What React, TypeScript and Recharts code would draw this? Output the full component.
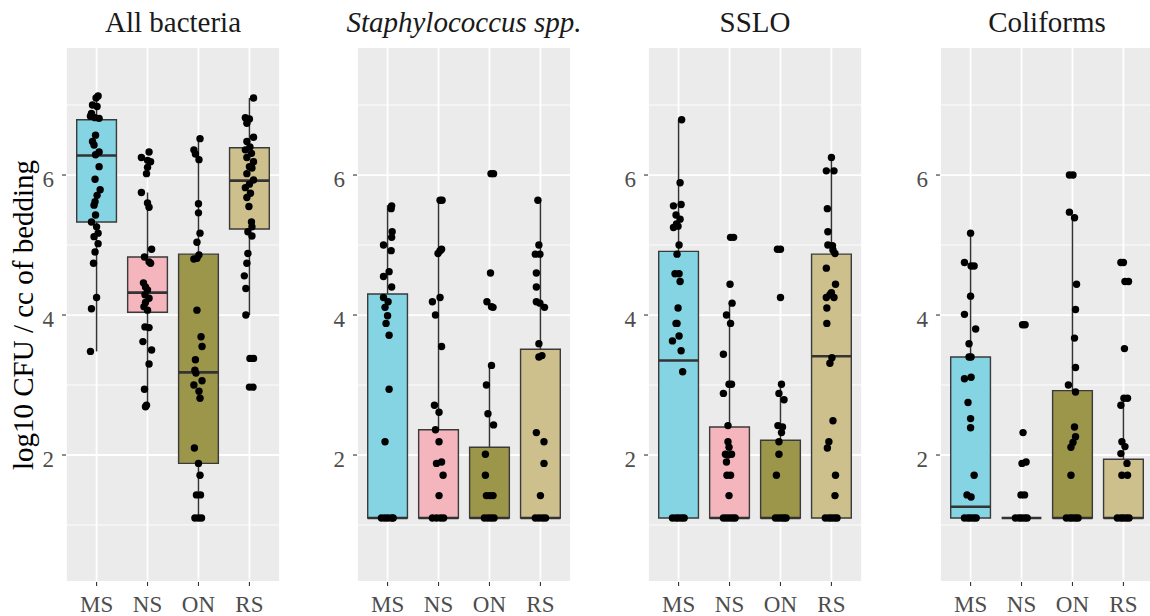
import React from "react";
import {
  ComposedChart,
  CartesianGrid,
  XAxis,
  YAxis,
  Scatter,
  ReferenceArea,
  ReferenceLine,
} from "recharts";

// ---------- data ----------
const categories = ["MS", "NS", "ON", "RS"];
const facetTitles = ["All bacteria", "Staphylococcus spp.", "SSLO", "Coliforms"];
const yTicks = [2, 4, 6];
const yMinorTicks = [1, 3, 5, 7];

// box stats per group: [min whisker, Q1, median, Q3, max whisker]
const allBacteriaBoxes = [
  [3.48, 5.33, 6.28, 6.79, 7.13],
  [2.69, 4.04, 4.32, 4.83, 5.75],
  [1.1, 1.88, 3.18, 4.87, 6.52],
  [4.0, 5.23, 5.92, 6.39, 7.1],
];
const staphBoxes = [
  [1.1, 1.1, 1.1, 4.3, 5.57],
  [1.1, 1.1, 1.1, 2.36, 5.64],
  [1.1, 1.1, 1.1, 2.11, 3.28],
  [1.1, 1.1, 1.1, 3.51, 5.64],
];
const ssloBoxes = [
  [1.1, 1.1, 3.35, 4.91, 6.79],
  [1.1, 1.1, 1.1, 2.4, 4.17],
  [1.1, 1.1, 1.1, 2.21, 3.01],
  [1.1, 1.1, 3.41, 4.87, 6.25],
];
const coliformBoxes = [
  [1.1, 1.1, 1.26, 3.4, 5.17],
  [1.1, 1.1, 1.1, 1.1, 1.1],
  [1.1, 1.1, 1.1, 2.92, 5.4],
  [1.1, 1.1, 1.1, 1.94, 2.81],
];

// points: [value, horizontal jitter in category units]
const allBacteriaMS = [
  [7.13, 0.03], [7.1, -0.01], [7.0, -0.08], [6.98, 0.01], [6.88, -0.1], [6.84, -0.12], [6.82, -0.03], [6.81, 0.05],
  [6.57, -0.02], [6.48, -0.08], [6.43, -0.05], [6.33, 0.05], [6.29, -0.02], [6.12, 0.05], [5.94, -0.03], [5.79, 0.07],
  [5.71, 0.01], [5.62, -0.03], [5.57, -0.05], [5.43, -0.02], [5.33, -0.1], [5.26, 0.0], [5.17, 0.03], [5.12, -0.05],
  [5.02, 0.03], [4.9, -0.03], [4.74, -0.06], [4.25, 0.0], [4.09, -0.1], [3.48, -0.12],
];
const allBacteriaNS = [
  [6.33, 0.03], [6.25, -0.12], [6.21, 0.0], [6.19, 0.06], [6.11, 0.0], [6.02, -0.02], [5.75, -0.12], [5.6, 0.0],
  [5.54, 0.03], [4.94, 0.08], [4.83, -0.06], [4.76, 0.03], [4.74, 0.06], [4.46, -0.08], [4.4, -0.04], [4.36, 0.0],
  [4.29, -0.05], [4.24, 0.03], [4.18, -0.04], [4.12, -0.07], [4.07, 0.0], [3.83, -0.05], [3.82, 0.03], [3.62, -0.09],
  [3.5, 0.08], [3.3, 0.03], [2.94, -0.06], [2.71, -0.02], [2.69, -0.04],
];
const allBacteriaON = [
  [6.52, 0.03], [6.36, -0.09], [6.3, -0.06], [6.22, 0.01], [5.59, 0.0], [5.46, 0.0], [5.17, 0.03], [5.04, -0.03],
  [4.86, 0.01], [4.8, -0.09], [4.81, -0.03], [4.07, -0.03], [3.69, 0.05], [3.55, 0.07], [3.36, -0.06], [3.21, -0.07],
  [3.17, -0.05], [3.0, -0.09], [3.06, 0.07], [2.91, 0.01], [2.81, 0.03], [2.1, -0.08], [1.88, 0.0], [1.71, 0.03],
  [1.43, -0.04], [1.43, 0.04], [1.1, -0.07], [1.1, 0.0], [1.1, 0.06],
];
const allBacteriaRS = [
  [7.1, 0.08], [6.82, -0.08], [6.8, 0.0], [6.74, -0.05], [6.54, 0.08], [6.48, -0.05], [6.4, 0.01], [6.36, -0.08],
  [6.31, 0.04], [6.25, -0.05], [6.19, 0.08], [6.12, 0.0], [6.1, 0.05], [6.02, -0.05], [5.93, 0.08], [5.87, 0.0],
  [5.82, -0.08], [5.74, 0.02], [5.68, -0.05], [5.55, -0.01], [5.33, 0.04], [5.26, 0.05], [5.19, -0.03], [5.13, 0.05],
  [4.88, -0.03], [4.74, -0.05], [4.56, -0.1], [4.38, -0.07], [4.0, -0.07], [3.38, 0.01], [3.38, 0.08], [2.97, 0.0],
  [2.97, 0.07],
];

const staphMS = [
  [5.56, 0.08], [5.52, 0.07], [5.19, 0.09], [5.11, 0.08], [5.0, -0.08], [4.92, 0.07], [4.62, 0.03], [4.55, -0.08],
  [4.4, 0.08], [4.25, -0.08], [4.19, 0.01], [4.11, -0.05], [3.99, 0.0], [3.88, -0.03], [3.71, 0.03], [2.94, 0.03],
  [2.19, -0.05], [1.1, -0.12], [1.1, -0.05], [1.1, 0.01], [1.1, 0.08], [1.1, 0.11],
];
const staphNS = [
  [5.64, 0.03], [5.64, 0.07], [4.94, 0.06], [4.92, 0.03], [4.88, -0.01], [4.25, 0.03], [4.19, -0.12], [4.0, -0.06],
  [3.55, 0.06], [2.71, -0.08], [2.61, 0.01], [2.36, -0.06], [2.19, 0.01], [1.88, -0.04], [1.9, 0.06], [1.71, 0.09],
  [1.42, 0.01], [1.1, -0.12], [1.1, -0.04], [1.1, 0.04], [1.1, 0.1],
];
const staphON = [
  [6.02, 0.03], [6.02, 0.08], [4.6, 0.02], [4.19, -0.05], [4.12, 0.04], [4.11, 0.07], [3.28, 0.04], [3.0, -0.06],
  [2.59, -0.03], [2.43, 0.08], [2.01, -0.08], [1.71, -0.08], [1.42, -0.06], [1.42, 0.01], [1.42, 0.07], [1.1, -0.1],
  [1.1, -0.03], [1.1, 0.03], [1.1, 0.09],
];
const staphRS = [
  [5.64, -0.05], [5.0, -0.03], [4.87, -0.1], [4.87, -0.01], [4.6, -0.08], [4.4, -0.08], [4.19, -0.08], [4.17, -0.01],
  [4.11, 0.08], [3.59, -0.03], [3.4, -0.03], [3.42, 0.03], [2.32, -0.08], [2.19, 0.07], [1.88, 0.07], [1.42, 0.0],
  [1.1, -0.1], [1.1, -0.03], [1.1, 0.04], [1.1, 0.1],
];

const ssloMS = [
  [6.79, 0.06], [5.89, 0.03], [5.56, -0.1], [5.58, 0.05], [5.43, -0.05], [5.37, 0.03], [5.3, -0.04], [5.25, -0.1],
  [5.27, -0.01], [5.0, 0.01], [4.87, -0.03], [4.59, -0.07], [4.59, 0.01], [4.48, 0.03], [4.1, -0.01], [3.88, -0.05],
  [3.88, -0.03], [3.7, 0.01], [3.63, -0.12], [3.49, 0.05], [3.19, 0.08], [1.1, -0.12], [1.1, -0.05], [1.1, 0.0],
  [1.1, 0.06], [1.1, 0.11],
];
const ssloNS = [
  [5.11, 0.02], [5.11, 0.08], [4.44, 0.01], [4.17, 0.05], [4.0, -0.06], [3.88, 0.02], [3.44, -0.12], [3.01, -0.01],
  [3.01, 0.04], [2.88, -0.12], [2.42, -0.03], [2.19, -0.03], [2.11, -0.01], [2.01, -0.08], [2.01, 0.04], [2.0, -0.03],
  [1.9, -0.06], [1.71, -0.05], [1.71, 0.02], [1.42, -0.01], [1.1, -0.12], [1.1, -0.06], [1.1, 0.0], [1.1, 0.06],
  [1.1, 0.11],
];
const ssloON = [
  [4.94, -0.06], [4.94, 0.0], [4.25, 0.0], [3.01, 0.02], [2.88, -0.03], [2.79, 0.07], [2.42, -0.05], [2.4, 0.04],
  [2.32, 0.02], [2.19, -0.03], [2.01, -0.03], [1.71, -0.08], [1.1, -0.1], [1.1, -0.04], [1.1, 0.02], [1.1, 0.07],
  [1.1, 0.11],
];
const ssloRS = [
  [6.25, 0.0], [6.06, -0.1], [6.06, 0.05], [5.52, -0.08], [5.19, -0.07], [5.0, -0.07], [4.99, 0.02], [4.93, 0.03],
  [4.88, 0.07], [4.67, -0.1], [4.44, 0.08], [4.32, 0.0], [4.25, -0.1], [4.25, 0.05], [4.29, -0.03], [4.1, -0.09],
  [3.88, -0.09], [3.39, 0.01], [3.31, -0.03], [2.49, 0.03], [2.19, -0.05], [2.1, -0.08], [1.71, 0.08], [1.42, 0.07],
  [1.1, -0.12], [1.1, -0.05], [1.1, 0.0], [1.1, 0.06], [1.1, 0.11],
];

const coliformMS = [
  [5.17, 0.0], [4.75, -0.12], [4.7, 0.01], [4.7, 0.07], [4.27, 0.0], [4.01, -0.12], [3.8, 0.1], [3.59, -0.03],
  [3.4, -0.03], [3.4, 0.01], [3.09, -0.12], [3.11, 0.01], [2.75, -0.05], [2.52, 0.0], [2.39, 0.0], [1.71, 0.07],
  [1.43, -0.07], [1.4, 0.01], [1.1, -0.12], [1.1, -0.05], [1.1, 0.0], [1.1, 0.06], [1.1, 0.11],
];
const coliformNS = [
  [3.86, 0.02], [3.86, 0.07], [2.32, 0.03], [1.88, 0.01], [1.9, 0.09], [1.43, -0.01], [1.43, 0.06], [1.1, -0.12],
  [1.1, -0.05], [1.1, 0.0], [1.1, 0.06], [1.1, 0.11],
];
const coliformON = [
  [6.0, -0.06], [6.0, 0.01], [5.47, -0.06], [5.39, 0.04], [4.44, 0.08], [4.08, 0.06], [3.67, 0.04], [3.25, 0.06],
  [3.0, -0.08], [2.9, 0.06], [2.4, 0.04], [2.26, 0.06], [2.18, 0.01], [2.11, -0.03], [1.71, -0.03], [1.1, -0.12],
  [1.1, -0.05], [1.1, 0.0], [1.1, 0.06], [1.1, 0.11],
];
const coliformRS = [
  [4.75, -0.05], [4.75, 0.0], [4.48, 0.03], [4.48, 0.1], [3.52, 0.02], [2.81, 0.01], [2.81, 0.08], [2.71, -0.05],
  [2.19, -0.03], [2.12, 0.03], [2.02, -0.05], [1.88, 0.07], [1.71, -0.03], [1.71, 0.08], [1.1, -0.12], [1.1, -0.05],
  [1.1, 0.0], [1.1, 0.06], [1.1, 0.11],
];

// ---------- styles / layout ----------
const FILLS = ["#85D4E3", "#F4B5BD", "#9C964A", "#CDC08C"];
const FONT = "'Liberation Serif', 'Times New Roman', serif";
const PANEL_W = 214;
const AXIS_W = 60;
const PANEL_LEFTS = [66, 357, 648, 940];
const BOX_HALF = 0.39;
const Y_DOMAIN: [number, number] = [0.186, 7.829];

const facets = [
  { boxes: allBacteriaBoxes, points: [allBacteriaMS, allBacteriaNS, allBacteriaON, allBacteriaRS] },
  { boxes: staphBoxes, points: [staphMS, staphNS, staphON, staphRS] },
  { boxes: ssloBoxes, points: [ssloMS, ssloNS, ssloON, ssloRS] },
  { boxes: coliformBoxes, points: [coliformMS, coliformNS, coliformON, coliformRS] },
];

const Dot = (props: any) => {
  const { cx, cy } = props;
  if (cx == null || cy == null) return null;
  return <circle cx={cx} cy={cy} r={3.7} fill="#000000" />;
};

const YTick = (props: any) => {
  const { x, y, payload } = props;
  return (
    <text x={x} y={y + 11.5} textAnchor="end" fill="#4D4D4D" fontSize={23} fontFamily={FONT}>
      {payload.value}
    </text>
  );
};

const XTick = (props: any) => {
  const { x, y, payload } = props;
  return (
    <text x={x} y={y + 16.5} textAnchor="middle" fill="#4D4D4D" fontSize={23} fontFamily={FONT}>
      {categories[payload.value - 1]}
    </text>
  );
};

function Facet({ left, boxes, points }: { left: number; boxes: number[][]; points: number[][][] }) {
  const scatterData = points.flatMap((grp, gi) => grp.map(([v, j]) => ({ x: gi + 1 + j, y: v })));
  return (
    <div style={{ position: "absolute", left: left - AXIS_W, top: 0 }}>
      <ComposedChart
        width={AXIS_W + PANEL_W}
        height={616}
        margin={{ top: 47, right: 0, bottom: 0, left: 0 }}
      >
        <CartesianGrid fill="#EBEBEB" stroke="#FFFFFF" strokeWidth={1.8} />
        {yMinorTicks.map((v) => (
          <ReferenceLine key={"m" + v} y={v} stroke="#FFFFFF" strokeWidth={0.9} zIndex={-90} />
        ))}
        <XAxis
          type="number"
          dataKey="x"
          domain={[0.4, 4.6]}
          ticks={[1, 2, 3, 4]}
          interval={0}
          allowDataOverflow
          axisLine={false}
          tickSize={4}
          tickMargin={9}
          height={34}
          tick={XTick}
          tickLine={{ stroke: "#333333", strokeWidth: 1.1 }}
        />
        <YAxis
          type="number"
          dataKey="y"
          domain={Y_DOMAIN}
          ticks={yTicks}
          interval={0}
          allowDataOverflow
          axisLine={false}
          width={AXIS_W}
          tickSize={4}
          tickMargin={8}
          tick={YTick}
          tickLine={{ stroke: "#333333", strokeWidth: 1.1 }}
        />
        {boxes.map(([mn, q1, , q3, mx], i) =>
          [
            mx > q3 ? (
              <ReferenceLine
                key={"wu" + i}
                segment={[{ x: i + 1, y: q3 }, { x: i + 1, y: mx }]}
                stroke="#333333"
                strokeWidth={1.5}
                zIndex={50}
              />
            ) : null,
            q1 > mn ? (
              <ReferenceLine
                key={"wl" + i}
                segment={[{ x: i + 1, y: mn }, { x: i + 1, y: q1 }]}
                stroke="#333333"
                strokeWidth={1.5}
                zIndex={50}
              />
            ) : null,
          ]
        )}
        {boxes.map(([, q1, , q3], i) => (
          <ReferenceArea
            key={"b" + i}
            x1={i + 1 - BOX_HALF}
            x2={i + 1 + BOX_HALF}
            y1={q1}
            y2={q3}
            fill={FILLS[i]}
            fillOpacity={1}
            stroke="#3A3A3A"
            strokeWidth={1.4}
            ifOverflow="visible"
            zIndex={100}
          />
        ))}
        {boxes.map(([, , md], i) => (
          <ReferenceLine
            key={"md" + i}
            segment={[{ x: i + 1 - BOX_HALF, y: md }, { x: i + 1 + BOX_HALF, y: md }]}
            stroke="#333333"
            strokeWidth={2.6}
            zIndex={150}
          />
        ))}
        <Scatter data={scatterData} isAnimationActive={false} shape={Dot} zIndex={600} />
      </ComposedChart>
    </div>
  );
}

export default function App() {
  return (
    <div
      style={{
        position: "absolute",
        left: 0,
        top: 0,
        width: 1150,
        height: 616,
        overflow: "hidden",
        background: "#FFFFFF",
      }}
    >
      {facets.map((f, i) => (
        <Facet key={i} left={PANEL_LEFTS[i]} boxes={f.boxes} points={f.points} />
      ))}
      <svg
        width={1150}
        height={616}
        style={{ position: "absolute", left: 0, top: 0, pointerEvents: "none" }}
      >
        {facetTitles.map((t, i) => (
          <text
            key={t}
            x={PANEL_LEFTS[i] + PANEL_W / 2}
            y={32}
            textAnchor="middle"
            fontFamily={FONT}
            fontSize={29}
            fontStyle={i === 1 ? "italic" : "normal"}
            fill="#1A1A1A"
          >
            {t}
          </text>
        ))}
        <text
          transform="translate(33,315) rotate(-90)"
          textAnchor="middle"
          fontFamily={FONT}
          fontSize={29}
          fill="#000000"
        >
          log10 CFU / cc of bedding
        </text>
      </svg>
    </div>
  );
}
